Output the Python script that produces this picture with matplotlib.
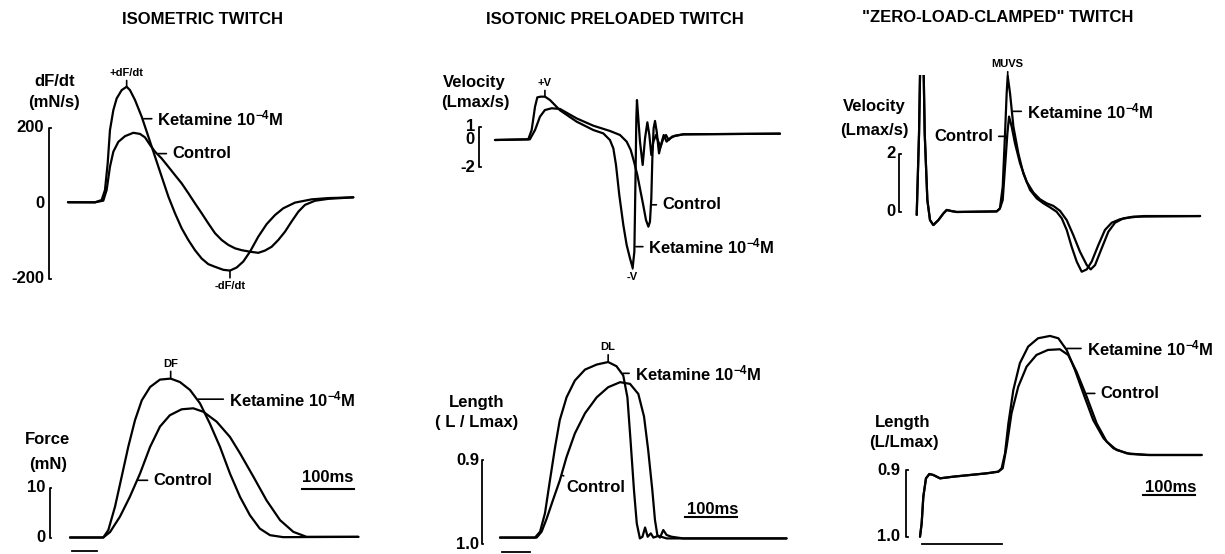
import numpy as np
import matplotlib
matplotlib.use("Agg")
import matplotlib.pyplot as plt

plt.rcParams['font.family'] = ['Liberation Sans', 'DejaVu Sans']
plt.rcParams['font.weight'] = 'bold'
plt.rcParams['mathtext.fontset'] = 'custom'
for _k in ['rm', 'bf', 'it', 'sf']:
    plt.rcParams['mathtext.' + _k] = 'Liberation Sans:bold'
plt.rcParams['mathtext.default'] = 'rm'

# ---------------- DATA (time in ms) ----------------
# Panel 1: isometric twitch, dF/dt (mN/s)
iso_dfdt_t_ket = [0, 51.9, 64.7, 71.1, 76.3, 80.7, 87.2, 93.6, 103.2, 112.8, 119.2, 128.8, 141.6, 154.5,
                  167.3, 180.1, 193, 205.7, 218.6, 231.4, 244.2, 257, 269.8, 282.7, 298.7, 311.5, 324.3,
                  337.1, 350, 366, 382, 398, 414, 436.5, 468.6, 500.6, 548.7]
iso_dfdt_ket = [2, 1.8, 7.9, 34.4, 105, 193, 246, 277, 299, 308, 299, 273, 229, 176,
                123, 70, 17, -27, -67, -98, -125, -147, -162, -169, -177, -179, -171,
                -155, -129, -89, -56, -32, -14, 1, 9.7, 13, 15]
iso_dfdt_t_ctl = [0, 51.9, 67.9, 74.3, 80.7, 87.2, 96.8, 109.6, 125.6, 138.4, 148, 157.7, 167.3, 180.1,
                  193, 205.7, 218.6, 231.4, 244.2, 257, 269.8, 282.7, 295.5, 308.3, 321.1, 334, 350,
                  366, 378.8, 391.6, 404.4, 417.3, 430, 443, 455.7, 475, 500.6, 548.7]
iso_dfdt_ctl = [2, 1.8, 6.2, 34.4, 96, 136, 162, 177, 186, 183, 174, 154, 136, 118,
                96, 74, 52, 26, -1, -27, -54, -80, -98, -111, -120, -125, -129,
                -132, -126, -116, -98, -76, -49, -23, -5, 6, 11, 15]
iso_dfdt_ticks = [-200, 0, 200]

# Panel 2: isotonic preloaded twitch, velocity (Lmax/s)
ton_v_t_ket = [0, 64, 70.5, 77, 81.4, 87.8, 96.2, 105.8, 125, 157, 189, 208.3, 221, 227.6, 232.7, 239,
               246.8, 253.2, 259.6, 264.7, 268, 270, 271.8, 273, 275.6, 278.8, 284, 288.5, 293, 296.8,
               300.6, 304.5, 309.6, 314, 318.6, 323.7, 328.8, 334, 340.4, 349.4, 362, 548]
ton_v_ket = [0, 0.05, 0.74, 2.47, 3.16, 3.21, 3.21, 2.96, 2.2, 1.36, 0.74, 0.49, 0, -0.62, -1.85, -4.07,
             -6.3, -7.78, -8.77, -9.46, -8.27, -3.33, 1.6, 2.96, 1.6, -0.12, -1.85, 0.12, 1.31, 0.37,
             -1.11, -0.12, 0.37, -0.12, -0.49, 0.12, 0.37, 0, 0.25, 0.32, 0.42, 0.47]
ton_v_t_ctl = [0, 67, 77, 86.5, 96, 109, 125, 157, 189, 221, 240.4, 253.2, 261, 267.3, 273.7, 280, 285,
               290.4, 295, 298, 300.6, 302.6, 305, 307.7, 311, 315.4, 320, 324.4, 330, 336.5, 346, 362,
               548]
ton_v_ctl = [0, 0.05, 0.74, 1.73, 2.22, 2.35, 2.3, 1.6, 1.06, 0.67, 0.37, -0.12, -0.74, -1.6, -2.59,
             -3.83, -4.81, -5.93, -6.42, -6.05, -4.32, -1.36, 0.86, 1.41, 0.62, -0.99, -0.25, 0.37,
             -0.12, 0.12, 0.32, 0.42, 0.47]
ton_v_ticks = [-2, 0, 1]

# Panel 3: zero-load-clamped twitch, velocity (Lmax/s)
zlc_v_t_ket = [0, 4.5, 7.7, 12.2, 15.4, 20.5, 25.6, 32, 41.7, 51.3, 57.7, 67.3, 77, 153.8, 160,
               165.4, 169.9, 173, 175, 179.5, 186, 195.5, 205, 218, 230.8, 243.6, 256.4, 269, 279,
               288.5, 298, 307.7, 317.3, 327, 336.5, 349.3, 362, 375, 391, 410, 436, 545]
zlc_v_ket = [-0.11, 2.7, 6.1, 6.1, 2.7, 0.4, -0.29, -0.46, -0.29, -0.06, 0.06, 0.02, -0.01, 0.01, 0.11,
             0.86, 2.7, 4.08, 4.68, 4.08, 2.93, 2.01, 1.32, 0.75, 0.46, 0.29, 0.15, 0, -0.23,
             -0.63, -1.21, -1.72, -2.07, -1.99, -1.72, -1.15, -0.63, -0.38, -0.26, -0.2, -0.15, -0.15]
zlc_v_t_ctl = [0, 4.5, 7.7, 12.2, 15.4, 20.5, 25.6, 32, 41.7, 51.3, 57.7, 67.3, 77, 153.8, 160,
               165.4, 169.9, 174.4, 177.6, 182.7, 189, 198.7, 211.5, 224.4, 237, 250, 262.8, 275.6,
               288.5, 301, 314, 327, 334.6, 343, 355.8, 368.6, 381.4, 397.4, 416.7, 545]
zlc_v_ctl = [-0.11, 2.7, 6.1, 6.1, 2.7, 0.4, -0.29, -0.46, -0.29, -0.06, 0.06, 0.02, -0.01, 0.01, 0.11,
             0.4, 1.55, 2.7, 3.28, 2.93, 2.36, 1.67, 1.03, 0.66, 0.43, 0.29, 0.2, 0.03,
             -0.29, -0.8, -1.38, -1.84, -1.99, -1.84, -1.26, -0.69, -0.38, -0.23, -0.17, -0.15]
zlc_v_ticks = [0, 2]

# Panel 4: isometric twitch, force (mN)
iso_f_t_ket = [0, 64, 73.7, 86.5, 99.4, 112, 125, 138, 154, 173, 193.6, 211.5, 230.8, 250, 269,
               288.5, 307.7, 327, 346, 365, 384.6, 410, 554.5]
iso_f_ket = [0, 0, 1.5, 6.2, 12.3, 18.3, 23.7, 27.7, 30.4, 31.9, 32.1, 31.4, 29.8, 27.1, 23,
             18.3, 12.9, 8.2, 4.5, 1.8, 0.47, 0.07, 0.13]
iso_f_t_ctl = [0, 64, 77, 96, 115, 134.6, 154, 173, 192, 214.7, 237, 256.4, 282, 307.7, 327, 352.6,
               378, 404, 429.5, 455, 554.5]
iso_f_ctl = [0, 0, 1.1, 4.2, 8.2, 12.9, 18.3, 22.4, 24.7, 25.9, 26.1, 25.4, 23.4, 20.3, 17, 12.3,
             7.5, 3.5, 1.14, 0.13, 0.13]
iso_f_ticks = [0, 10]

# Panel 5: isotonic preloaded twitch, length (L/Lmax)
ton_l_t_ket = [0, 67.3, 77, 86.5, 96, 106, 115, 128, 144, 163.5, 186, 208, 224, 237, 245, 251, 257.7,
               263, 269, 274, 279, 284, 290, 295, 304.5, 320.5, 551]
ton_l_ket = [0.992, 0.992, 0.985, 0.963, 0.924, 0.884, 0.852, 0.825, 0.805, 0.792, 0.786, 0.783,
             0.788, 0.799, 0.825, 0.876, 0.936, 0.975, 0.993, 0.991, 0.98, 0.991, 0.987, 0.992,
             0.99, 0.993, 0.993]
ton_l_t_ctl = [0, 70.5, 80, 90, 102.6, 115, 128, 144, 163.5, 186, 208, 231, 250, 266, 277, 285, 293,
               298, 302.6, 307.7, 314, 320.5, 330, 352.6, 551]
ton_l_ctl = [0.992, 0.992, 0.985, 0.969, 0.946, 0.924, 0.896, 0.868, 0.844, 0.825, 0.813, 0.807,
             0.809, 0.821, 0.848, 0.888, 0.936, 0.971, 0.989, 0.992, 0.983, 0.989, 0.991, 0.993, 0.993]
ton_l_ticks = [0.9, 1.0]

# Panel 6: zero-load-clamped twitch, length (L/Lmax)
zlc_l_t_ket = [0, 3.2, 6.4, 11.5, 18, 25.6, 38.5, 64, 96, 128, 150.6, 157, 163.5, 170, 179.5, 192,
               208, 227, 250, 266, 282, 298, 314, 333, 353, 372, 397.4, 436, 541.6]
zlc_l_ket = [1.0, 0.98, 0.94, 0.9125, 0.906, 0.9075, 0.9125, 0.91, 0.9075, 0.905, 0.9025, 0.8975,
             0.875, 0.83, 0.78, 0.74, 0.715, 0.7025, 0.699, 0.7025, 0.72, 0.75, 0.785, 0.825,
             0.8525, 0.8675, 0.875, 0.8775, 0.8775]
zlc_l_t_ctl = [0, 3.2, 6.4, 11.5, 18, 25.6, 38.5, 64, 96, 128, 150.6, 159, 166.6, 176, 189, 205,
               224, 246, 269, 285, 301, 320.5, 339.7, 359, 378, 404, 442, 541.6]
zlc_l_ctl = [1.0, 0.98, 0.94, 0.9125, 0.906, 0.9075, 0.9125, 0.91, 0.9075, 0.905, 0.9025, 0.8975,
             0.865, 0.815, 0.775, 0.745, 0.7275, 0.72, 0.719, 0.7275, 0.7525, 0.79, 0.83, 0.8575,
             0.87, 0.876, 0.8775, 0.8775]
zlc_l_ticks = [0.9, 1.0]

titles = ["ISOMETRIC TWITCH", "ISOTONIC PRELOADED TWITCH", "\"ZERO-LOAD-CLAMPED\" TWITCH"]
KET = "Ketamine 10$^{-4}$M"
CTL = "Control"

# ---------------- LAYOUT ----------------
W, H = 1225, 554
PX_PER_MS = 0.52
fig = plt.figure(figsize=(W / 100, H / 100), dpi=100)
LW = 1.6
FS = 12


def make_ax(left, top, right, bottom, x0_px, y0_px, ppu, y0_val=0.0, inverted=False):
    ax = fig.add_axes([left / W, 1 - bottom / H, (right - left) / W, (bottom - top) / H])
    s = -1.0 if inverted else 1.0
    ax.set_xlim((left - x0_px) / PX_PER_MS, (right - x0_px) / PX_PER_MS)
    ax.set_ylim(y0_val + s * (y0_px - bottom) / ppu, y0_val + s * (y0_px - top) / ppu)
    ax.axis('off')
    ax.patch.set_alpha(0)
    return ax


def ftext(x, y, s, size=FS, ha='center', va='center'):
    fig.text(x / W, 1 - y / H, s, fontsize=size, ha=ha, va=va, fontweight='bold')


def vbar(ax, t, lo, hi, hook):
    ax.plot([t + hook, t, t, t + hook], [hi, hi, lo, lo], color='k', lw=1.3, clip_on=False)


def ticklabels(ax, t, vals, fmt):
    for v in vals:
        ax.text(t, v, fmt(v), ha='right', va='center', fontsize=FS, fontweight='bold')


def lead(ax, tx, ty, s, dx, dy=0, ha='left'):
    ax.annotate(s, xy=(tx, ty), xytext=(dx, dy), textcoords='offset pixels', ha=ha, va='center',
                fontsize=FS, fontweight='bold',
                arrowprops=dict(arrowstyle='-', lw=1.2, color='k', shrinkA=2, shrinkB=1))


def peak_mark(ax, tx, ty, s, off):
    ax.annotate(s, xy=(tx, ty), xytext=(0, off), textcoords='offset pixels', ha='center',
                va='bottom' if off > 0 else 'top', fontsize=8, fontweight='bold',
                arrowprops=dict(arrowstyle='-', lw=1.2, color='k', shrinkA=0, shrinkB=0))


def curve(ax, t, v):
    ax.plot(t, v, color='k', lw=LW, solid_joinstyle='round', solid_capstyle='round')


# Titles
ftext(203, 20, titles[0])
ftext(615, 20, titles[1])
ftext(998, 18, titles[2])

# ---- Panel 1 ----
ax1 = make_ax(0, 40, 410, 295, 68, 203, 0.3775)
curve(ax1, iso_dfdt_t_ket, iso_dfdt_ket)
curve(ax1, iso_dfdt_t_ctl, iso_dfdt_ctl)
vbar(ax1, -35.6, iso_dfdt_ticks[0], iso_dfdt_ticks[-1], 3)
ticklabels(ax1, -46, iso_dfdt_ticks, lambda v: "%d" % v)
ftext(55, 82, "dF/dt")
ftext(54, 103, "(mN/s)")
lead(ax1, 143, np.interp(143, iso_dfdt_t_ket, iso_dfdt_ket), KET, 15)
lead(ax1, 171, np.interp(171, iso_dfdt_t_ctl, iso_dfdt_ctl), CTL, 15)
peak_mark(ax1, 112.8, 308, "+dF/dt", 9)
peak_mark(ax1, 311.5, -179, "-dF/dt", -10)

# ---- Panel 2 ----
ax2 = make_ax(410, 40, 820, 295, 495, 140, 13.5)
curve(ax2, ton_v_t_ctl, ton_v_ctl)
curve(ax2, ton_v_t_ket, ton_v_ket)
vbar(ax2, -30.2, ton_v_ticks[0], ton_v_ticks[-1], 3)
ticklabels(ax2, -38.5, ton_v_ticks, lambda v: "%d" % v)
ftext(474, 82, "Velocity")
ftext(475, 103, "(Lmax/s)")
lead(ax2, 300, -4.8, CTL, 11)
lead(ax2, 268.2, -7.9, KET, 14)
peak_mark(ax2, 96, 3.21, "+V", 9)
peak_mark(ax2, 264.7, -9.46, "-V", -4)

# ---- Panel 3 ----
ax3 = make_ax(820, 75, 1225, 295, 916.7, 211.7, 29)
curve(ax3, zlc_v_t_ctl, zlc_v_ctl)
curve(ax3, zlc_v_t_ket, zlc_v_ket)
vbar(ax3, -34, zlc_v_ticks[0], zlc_v_ticks[-1], 3)
ticklabels(ax3, -40, zlc_v_ticks, lambda v: "%d" % v)
ftext(874, 107, "Velocity")
ftext(874, 130, "(Lmax/s)")
lead(ax3, 183, np.interp(183, zlc_v_t_ket, zlc_v_ket), KET, 15)
lead(ax3, 174, np.interp(174, zlc_v_t_ctl, zlc_v_ctl), CTL, -14, ha='right')
peak_mark(ax3, 175, 4.68, "MUVS", 7)

# ---- Panel 4 ----
ax4 = make_ax(0, 300, 410, 554, 70, 537.5, 4.95)
curve(ax4, iso_f_t_ket, iso_f_ket)
curve(ax4, iso_f_t_ctl, iso_f_ctl)
vbar(ax4, -38.5, iso_f_ticks[0], iso_f_ticks[-1], 2)
ticklabels(ax4, -48, iso_f_ticks, lambda v: "%d" % v)
ftext(47, 440, "Force")
ftext(48, 465, "(mN)")
lead(ax4, 244, np.interp(244, iso_f_t_ket, iso_f_ket), KET, 32)
lead(ax4, 129, np.interp(129, iso_f_t_ctl, iso_f_ctl), CTL, 16)
peak_mark(ax4, 193.6, 32.1, "DF", 10)
ax4.plot([4, 52], [-2.73, -2.73], color='k', lw=1.3, clip_on=False)
ax4.plot([446, 546], [9.8, 9.8], color='k', lw=1.5)
ftext(328, 478, "100ms")

# ---- Panel 5 ----
ax5 = make_ax(410, 300, 820, 554, 500, 544.3, 840, 1.0, inverted=True)
curve(ax5, ton_l_t_ket, ton_l_ket)
curve(ax5, ton_l_t_ctl, ton_l_ctl)
vbar(ax5, -35.2, ton_l_ticks[0], ton_l_ticks[-1], 2)
ticklabels(ax5, -40, ton_l_ticks, lambda v: "%.1f" % v)
ftext(477, 402, "Length")
ftext(477, 423, "( L / Lmax)")
lead(ax5, 234, np.interp(234, ton_l_t_ket, ton_l_ket), KET, 13)
lead(ax5, 118, np.interp(118, ton_l_t_ctl, ton_l_ctl), CTL, 5, -12)
peak_mark(ax5, 208, 0.783, "DL", 10)
ax5.plot([4, 58], [1.0095, 1.0095], color='k', lw=1.3, clip_on=False)
ax5.plot([356, 456], [0.9675, 0.9675], color='k', lw=1.5)
ftext(713, 510, "100ms")

# ---- Panel 6 ----
ax6 = make_ax(820, 300, 1225, 554, 920, 536.7, 667, 1.0, inverted=True)
curve(ax6, zlc_l_t_ket, zlc_l_ket)
curve(ax6, zlc_l_t_ctl, zlc_l_ctl)
vbar(ax6, -27, zlc_l_ticks[0], zlc_l_ticks[-1], 3)
ticklabels(ax6, -38.5, zlc_l_ticks, lambda v: "%.1f" % v)
ftext(903, 422, "Length")
ftext(904, 443, "(L/Lmax)")
lead(ax6, 280, np.interp(280, zlc_l_t_ket, zlc_l_ket), KET, 21)
lead(ax6, 318, np.interp(318, zlc_l_t_ctl, zlc_l_ctl), CTL, 15)
ax6.plot([4, 158], [1.011, 1.011], color='k', lw=1.3, clip_on=False)
ax6.plot([429, 529], [0.9375, 0.9375], color='k', lw=1.5)
ftext(1171, 488, "100ms")

fig.savefig("out.png", dpi=100, facecolor='white')
